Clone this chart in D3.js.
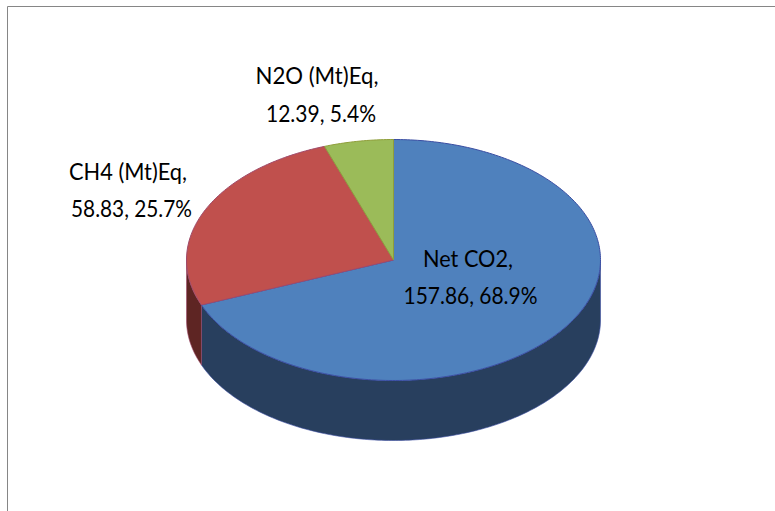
<!DOCTYPE html>
<html>
<head>
<style>
body { margin: 0; background: #fff; }
svg { display: block; }
text { font-family: "Lato", sans-serif; font-size: 23.5px; fill: #000; text-anchor: middle; }
</style>
</head>
<body>
<script src="https://d3js.org/d3.v7.min.js"></script>
<script>
const W = 775, H = 511;

const categories = ["Net CO2", "CH4 (Mt)Eq", "N2O (Mt)Eq"];
const values = [157.86, 58.83, 12.39];
const percents = ["68.9%", "25.7%", "5.4%"];
const topColors = ["#4f81bd", "#c0504d", "#9bbb59"];
const sideColors = ["#283f5e", "#5e2523", "#4d5d2c"];
const edgeColors = ["#3b4ea3", "#a04a6a", "#8f9e3a"];

const cx = 393.5, cy = 260, rx = 207, ry = 120.5, depth = 60;

const svg = d3.select("body").append("svg")
  .attr("width", W)
  .attr("height", H);

// chart frame, cut by the image on the right and bottom
svg.append("path")
  .attr("d", `M7.5,${H} V6.5 H${W}`)
  .attr("fill", "none")
  .attr("stroke", "#868686")
  .attr("stroke-width", 1);

const slices = d3.pie().sort(null)(values);

const px = (a) => cx + rx * Math.sin(a);
const py = (a) => cy - ry * Math.cos(a);

function rim(a0, a1) {
  const steps = Math.max(2, Math.ceil((a1 - a0) * 60));
  return d3.range(steps + 1).map((i) => a0 + (a1 - a0) * i / steps);
}

const line = d3.line();

// front wall: only the part of the rim between 90 and 270 degrees shows
slices.forEach((s) => {
  const a0 = Math.max(s.startAngle, Math.PI / 2);
  const a1 = Math.min(s.endAngle, 3 * Math.PI / 2);
  if (a1 <= a0) return;
  const upper = rim(a0, a1).map((a) => [px(a), py(a)]);
  const lower = rim(a0, a1).reverse().map((a) => [px(a), py(a) + depth]);
  svg.append("path")
    .attr("d", line(upper.concat(lower)) + "Z")
    .attr("fill", sideColors[s.index])
    .attr("stroke", edgeColors[s.index])
    .attr("stroke-width", 0.6);
});

// top face
slices.forEach((s) => {
  const pts = [[cx, cy]].concat(rim(s.startAngle, s.endAngle).map((a) => [px(a), py(a)]));
  svg.append("path")
    .attr("d", line(pts) + "Z")
    .attr("fill", topColors[s.index])
    .attr("stroke", edgeColors[s.index])
    .attr("stroke-width", 1);
});

// labels: two lines each, squeezed to the narrow face of the original
const labelLines = [
  { x: 468, y: 267, w: 90, t: `${categories[0]},` },
  { x: 470.5, y: 304, w: 134, t: `${values[0]}, ${percents[0]}` },
  { x: 128, y: 180, w: 118, t: `${categories[1]},` },
  { x: 131.5, y: 217, w: 121, t: `${values[1]}, ${percents[1]}` },
  { x: 317, y: 84, w: 123, t: `${categories[2]},` },
  { x: 321, y: 122, w: 110, t: `${values[2]}, ${percents[2]}` }
];

svg.selectAll("text.label")
  .data(labelLines)
  .enter()
  .append("text")
  .attr("class", "label")
  .attr("x", (d) => d.x)
  .attr("y", (d) => d.y)
  .attr("textLength", (d) => d.w)
  .attr("lengthAdjust", "spacingAndGlyphs")
  .text((d) => d.t);
</script>
</body>
</html>
